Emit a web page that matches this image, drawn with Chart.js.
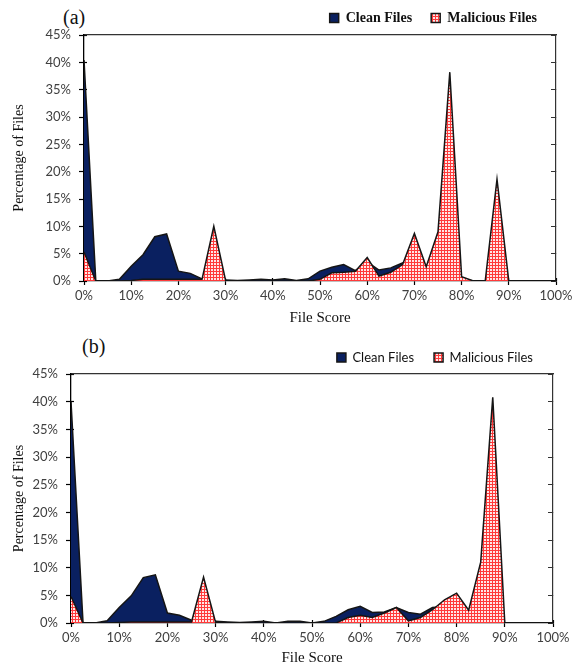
<!DOCTYPE html>
<html>
<head>
<meta charset="utf-8">
<script src="https://cdn.jsdelivr.net/npm/chart.js@4"></script>
<style>
  body { margin: 0; background: #fff; width: 579px; height: 669px; position: relative; overflow: hidden; }
  .box { position: absolute; left: 0; width: 579px; }
  .tag { position: absolute; font: 20px 'Liberation Serif', serif; color: #111; line-height: 24px; }
</style>
</head>
<body>
<div class="tag" style="left:63px;top:5px">(a)</div>
<div class="box" style="top:-8px;height:337px"><canvas id="chartA"></canvas></div>
<div class="tag" style="left:82px;top:334px">(b)</div>
<div class="box" style="top:331px;height:338px"><canvas id="chartB"></canvas></div>
<script>
// file score buckets (x axis, %)
const scores = [0, 2.5, 5, 7.5, 10, 12.5, 15, 17.5, 20, 22.5, 25, 27.5, 30, 32.5, 35, 37.5, 40,
  42.5, 45, 47.5, 50, 52.5, 55, 57.5, 60, 62.5, 65, 67.5, 70, 72.5, 75, 77.5, 80, 82.5, 85,
  87.5, 90, 92.5, 95, 97.5, 100];

// chart (a) - percentage of files
const cleanA = [40.4, 0, 0, 0.3, 2.7, 4.8, 8.1, 8.6, 1.8, 1.4, 0.4, 0.3, 0.2, 0.1, 0.2, 0.3, 0.2,
  0.4, 0.1, 0.4, 1.8, 2.5, 3.0, 1.9, 3.5, 2.0, 2.4, 3.3, 1.5, 1.2, 1.0, 0.8, 0.4, 0, 0,
  0.3, 0, 0, 0, 0, 0];
const maliciousA = [5.3, 0, 0, 0, 0.1, 0.3, 0.3, 0.3, 0.3, 0.3, 0.3, 10.0, 0.1, 0, 0, 0, 0,
  0, 0, 0, 0.3, 1.5, 1.6, 1.8, 4.3, 0.9, 1.6, 3.0, 8.7, 2.6, 9.0, 38.2, 0.8, 0, 0,
  18.6, 0, 0, 0, 0, 0];

// chart (b)
const cleanB = [40.0, 0, 0, 0.4, 2.8, 4.9, 8.2, 8.7, 1.8, 1.4, 0.5, 0.3, 0.3, 0.2, 0.1, 0.2, 0.3,
  0, 0.3, 0.3, 0, 0.3, 1.2, 2.4, 3.0, 1.9, 2.0, 2.8, 1.9, 1.6, 2.8, 3.0, 2.0, 1.0, 1.0,
  1.0, 0, 0, 0, 0, 0];
const maliciousB = [4.8, 0, 0, 0, 0.1, 0.2, 0.2, 0.2, 0.2, 0.2, 0.2, 8.3, 0.1, 0, 0, 0, 0,
  0, 0, 0, 0, 0, 0, 1.0, 1.4, 1.0, 1.8, 2.8, 0.4, 1.0, 2.4, 4.2, 5.4, 2.3, 11.0,
  40.8, 0, 0, 0, 0, 0];

const navy = '#0a2060';
const edge = '#151515';

function hatch(ctx) {
  const tile = document.createElement('canvas');
  tile.width = 3; tile.height = 3;
  const g = tile.getContext('2d');
  g.fillStyle = '#ffe6e6';
  g.fillRect(0, 0, 3, 3);
  g.fillStyle = '#ff3a3a';
  g.fillRect(0, 0, 3, 1);
  g.fillRect(0, 0, 1, 3);
  return ctx.createPattern(tile, 'repeat');
}

const pts = vals => scores.map((s, i) => ({ x: s, y: vals[i] }));
const pct = v => v + '%';

function makeChart(id, clean, malicious, cfg) {
  const canvas = document.getElementById(id);
  const red = hatch(canvas.getContext('2d'));
  return new Chart(canvas, {
    type: 'line',
    data: {
      datasets: [
        { label: 'Clean Files', data: pts(clean), backgroundColor: navy, borderColor: edge,
          borderWidth: 1.5, fill: 'origin', pointRadius: 0, tension: 0, order: 2 },
        { label: 'Malicious Files', data: pts(malicious), backgroundColor: red, borderColor: edge,
          borderWidth: 1.5, fill: 'origin', pointRadius: 0, tension: 0, order: 1 }
      ]
    },
    options: {
      responsive: true,
      maintainAspectRatio: false,
      animation: false,
      layout: { padding: { left: 0, right: cfg.padRight, top: 0, bottom: 0 } },
      plugins: {
        tooltip: { enabled: false },
        legend: {
          position: 'top',
          align: 'end',
          labels: {
            boxWidth: 9, boxHeight: 9, padding: cfg.legendPad, color: '#111',
            font: cfg.legendFont,
            sort: (a, b) => a.datasetIndex - b.datasetIndex
          }
        }
      },
      scales: {
        x: {
          type: 'linear', min: 0, max: 100, weight: 1,
          ticks: { stepSize: 10, callback: pct, color: '#404040', padding: 3,
            font: { family: 'Lato', size: 13 }, maxRotation: 0 },
          grid: { drawOnChartArea: false, tickLength: 4, color: '#000', tickWidth: 1.2 },
          border: { color: '#000', width: 1.3 },
          title: { display: true, text: 'File Score', color: '#111',
            font: { family: 'Liberation Serif', size: 15 }, padding: { top: 0, bottom: 2 } },
          afterFit: s => { s.height = cfg.xHeight; }
        },
        // inner half of the x tick marks
        xIn: {
          type: 'linear', position: 'bottom', min: 0, max: 100, weight: 0,
          ticks: { display: false, stepSize: 10 },
          grid: { drawOnChartArea: false, tickLength: -3, color: '#000', tickWidth: 1.2 },
          border: { display: false },
          afterFit: s => { s.height = 0; }
        },
        x2: {
          type: 'linear', position: 'top', min: 0, max: 100,
          ticks: { display: false },
          grid: { display: false, drawTicks: false },
          border: { color: '#333', width: 1.2 },
          afterFit: s => { s.height = 0; }
        },
        y: {
          min: 0, max: 45, weight: 1,
          ticks: { stepSize: 5, callback: pct, color: '#404040', padding: 8,
            font: { family: 'Lato', size: 13 } },
          grid: { drawOnChartArea: false, tickLength: 5, color: '#000', tickWidth: 1.2 },
          border: { color: '#000', width: 1.3 },
          title: { display: true, text: 'Percentage of Files', color: '#111',
            font: { family: 'Liberation Serif', size: 14 }, padding: { top: 10.5, bottom: 0 } },
          afterFit: s => { s.width = cfg.yWidth; }
        },
        yIn: {
          position: 'left', min: 0, max: 45, weight: 0,
          ticks: { display: false, stepSize: 5 },
          grid: { drawOnChartArea: false, tickLength: -3, color: '#000', tickWidth: 1.2 },
          border: { display: false },
          afterFit: s => { s.width = 0; }
        },
        y2: {
          position: 'right', min: 0, max: 45,
          ticks: { display: false, stepSize: 5 },
          grid: { drawOnChartArea: false, tickLength: -5, color: '#333' },
          border: { color: '#333', width: 1.2 },
          afterFit: s => { s.width = 0; }
        }
      }
    }
  });
}

makeChart('chartA', cleanA, maliciousA, {
  padRight: 23, yWidth: 84, xHeight: 48, legendPad: 19,
  legendFont: { family: 'Liberation Serif', size: 14, weight: 'bold' }
});
makeChart('chartB', cleanB, maliciousB, {
  padRight: 26, yWidth: 71, xHeight: 46, legendPad: 20,
  legendFont: { family: 'Lato', size: 13 }
});
</script>
</body>
</html>
